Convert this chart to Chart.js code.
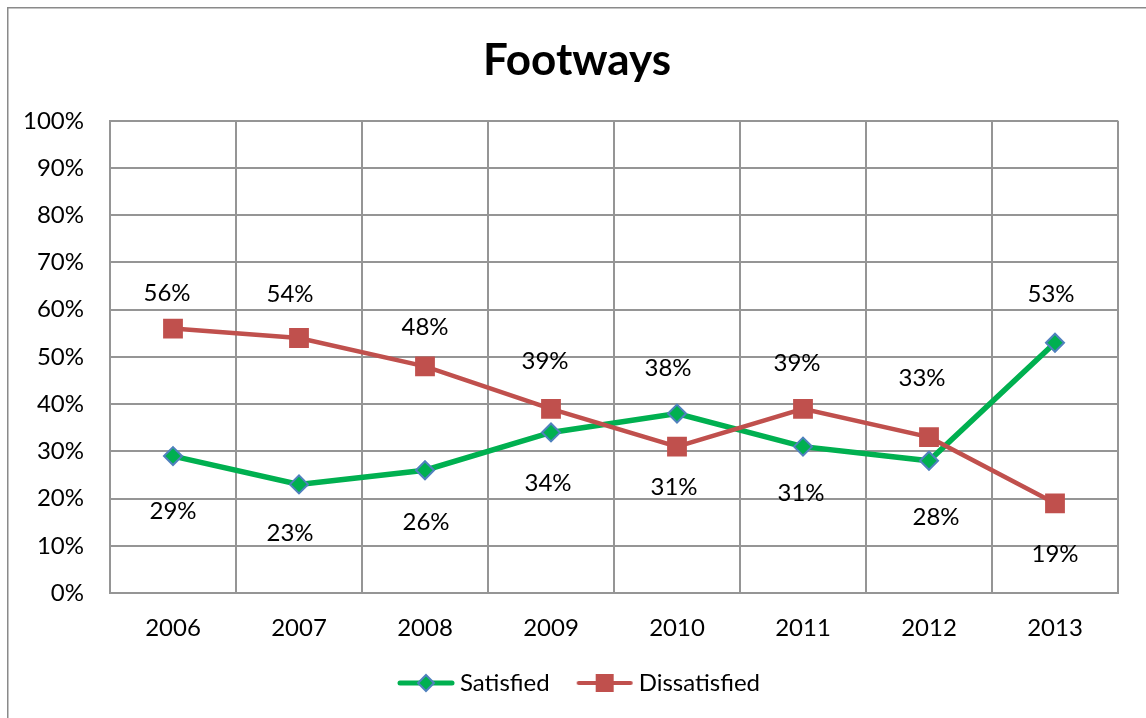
<!DOCTYPE html>
<html>
<head>
<meta charset="utf-8">
<title>Footways</title>
<script src="https://cdn.jsdelivr.net/npm/chart.js@4.4.0/dist/chart.umd.min.js"></script>
<style>
  html, body { margin: 0; padding: 0; background: #ffffff; }
  #wrap { width: 1146px; height: 718px; }
</style>
</head>
<body>
<div id="wrap"><canvas id="chart" width="1146" height="718"></canvas></div>
<script>
// Survey years and results (percent of respondents)
const years = ['2006', '2007', '2008', '2009', '2010', '2011', '2012', '2013'];
const satisfied = [29, 23, 26, 34, 38, 31, 28, 53];
const dissatisfied = [56, 54, 48, 39, 31, 39, 33, 19];
const yTickValues = [0, 10, 20, 30, 40, 50, 60, 70, 80, 90, 100];

// Hand-placed value label nudges, in pixels relative to each marker [dx, dy]
const satisfiedLabelNudge = [[0, 55], [-9, 49], [1, 52], [-3, 51], [-9, -45], [-2, 47], [7, 56], [-4, -48]];
const dissatisfiedLabelNudge = [[-6, -35], [-9, -44], [0, -39], [-6, -48], [-3, 41], [-6, -46], [-7, -59], [0, 51]];

const GREEN = '#00B050';
const BLUE = '#4F81BD';
const RED = '#C0504D';
const GRID = '#959595';
const FONT = 'Lato, "Open Sans", sans-serif';

// Legend symbols: a short line with the series marker on it
function legendSymbol(kind) {
  const c = document.createElement('canvas');
  c.width = 58; c.height = 22;
  const g = c.getContext('2d');
  g.lineCap = 'round';
  g.beginPath();
  g.moveTo(3, 11); g.lineTo(55, 11);
  if (kind === 'diamond') {
    g.strokeStyle = GREEN; g.lineWidth = 5; g.stroke();
    g.beginPath();
    g.moveTo(29, 3); g.lineTo(37, 11); g.lineTo(29, 19); g.lineTo(21, 11); g.closePath();
    g.fillStyle = GREEN; g.fill();
    g.strokeStyle = BLUE; g.lineWidth = 2; g.stroke();
  } else {
    g.strokeStyle = RED; g.lineWidth = 4; g.stroke();
    g.fillStyle = RED;
    g.fillRect(20, 2, 18, 18);
  }
  return c;
}

// Outer chart frame
const framePlugin = {
  id: 'frame',
  beforeDraw(chart) {
    const ctx = chart.ctx;
    ctx.save();
    ctx.strokeStyle = '#8a8a8a';
    ctx.lineWidth = 1.5;
    ctx.strokeRect(7.75, 7.75, 1400, 1400);
    ctx.restore();
  }
};

// Centre the title and legend row on the full canvas width rather than the padded box
const boxShiftPlugin = {
  id: 'boxShift',
  afterLayout(chart) {
    if (chart.legend) {
      chart.legend.left += 23;
      chart.legend.right += 23;
    }
    if (chart.titleBlock) {
      chart.titleBlock.left += 18;
      chart.titleBlock.right += 18;
    }
  }
};

// Value labels: each series' value printed next to its marker
const valueLabelPlugin = {
  id: 'valueLabels',
  afterDatasetsDraw(chart) {
    const ctx = chart.ctx;
    const nudges = [satisfiedLabelNudge, dissatisfiedLabelNudge];
    ctx.save();
    ctx.font = '24px ' + FONT;
    ctx.fillStyle = '#000000';
    ctx.textAlign = 'center';
    ctx.textBaseline = 'middle';
    chart.data.datasets.forEach((ds, di) => {
      const meta = chart.getDatasetMeta(di);
      meta.data.forEach((pt, i) => {
        const [dx, dy] = nudges[di][i];
        ctx.fillText(ds.data[i] + '%', pt.x + dx, pt.y + dy);
      });
    });
    ctx.restore();
  }
};

new Chart(document.getElementById('chart'), {
  type: 'line',
  data: {
    labels: years,
    datasets: [
      {
        label: 'Satisfied',
        data: satisfied,
        order: 1,
        borderColor: GREEN,
        backgroundColor: GREEN,
        borderWidth: 5.5,
        pointStyle: 'rectRot',
        pointRadius: 9,
        pointBackgroundColor: GREEN,
        pointBorderColor: BLUE,
        pointBorderWidth: 2,
        tension: 0,
        fill: false
      },
      {
        label: 'Dissatisfied',
        data: dissatisfied,
        order: 0,
        borderColor: RED,
        backgroundColor: RED,
        borderWidth: 4.5,
        pointStyle: 'rect',
        pointRadius: 14,
        pointBackgroundColor: RED,
        pointBorderColor: RED,
        pointBorderWidth: 0,
        tension: 0,
        fill: false
      }
    ]
  },
  options: {
    responsive: false,
    devicePixelRatio: 1,
    animation: false,
    layout: { padding: { left: 0, right: 28, top: 0, bottom: 13 } },
    plugins: {
      title: {
        display: true,
        text: 'Footways',
        color: '#000000',
        font: { family: FONT, size: 44, weight: 'bold' },
        padding: { top: 34, bottom: 34 }
      },
      legend: {
        position: 'bottom',
        labels: {
          color: '#000000',
          font: { family: FONT, size: 24 },
          usePointStyle: true,
          pointStyleWidth: 44,
          padding: 33,
          generateLabels() {
            return [
              { text: 'Satisfied', pointStyle: legendSymbol('diamond'), fillStyle: GREEN, strokeStyle: GREEN, lineWidth: 0, datasetIndex: 0, hidden: false },
              { text: 'Dissatisfied', pointStyle: legendSymbol('square'), fillStyle: RED, strokeStyle: RED, lineWidth: 0, datasetIndex: 1, hidden: false }
            ];
          }
        }
      },
      tooltip: { enabled: false }
    },
    scales: {
      x: {
        type: 'category',
        offset: true,
        grid: { display: true, offset: true, color: GRID, lineWidth: 2, drawTicks: false },
        border: { display: true, color: GRID, width: 2 },
        ticks: { color: '#000000', font: { family: FONT, size: 24 }, padding: 21, maxRotation: 0 },
        afterFit(scale) { scale.height = 45; }
      },
      y: {
        min: 0,
        max: 100,
        grid: { color: GRID, lineWidth: 2, drawTicks: false },
        border: { display: true, color: GRID, width: 2 },
        afterBuildTicks(scale) { scale.ticks = yTickValues.map(v => ({ value: v })); },
        ticks: {
          color: '#000000',
          font: { family: FONT, size: 24 },
          padding: 26,
          callback: (v) => v + '%'
        },
        afterFit(scale) { scale.width = 110; }
      }
    }
  },
  plugins: [framePlugin, boxShiftPlugin, valueLabelPlugin]
});
</script>
</body>
</html>
